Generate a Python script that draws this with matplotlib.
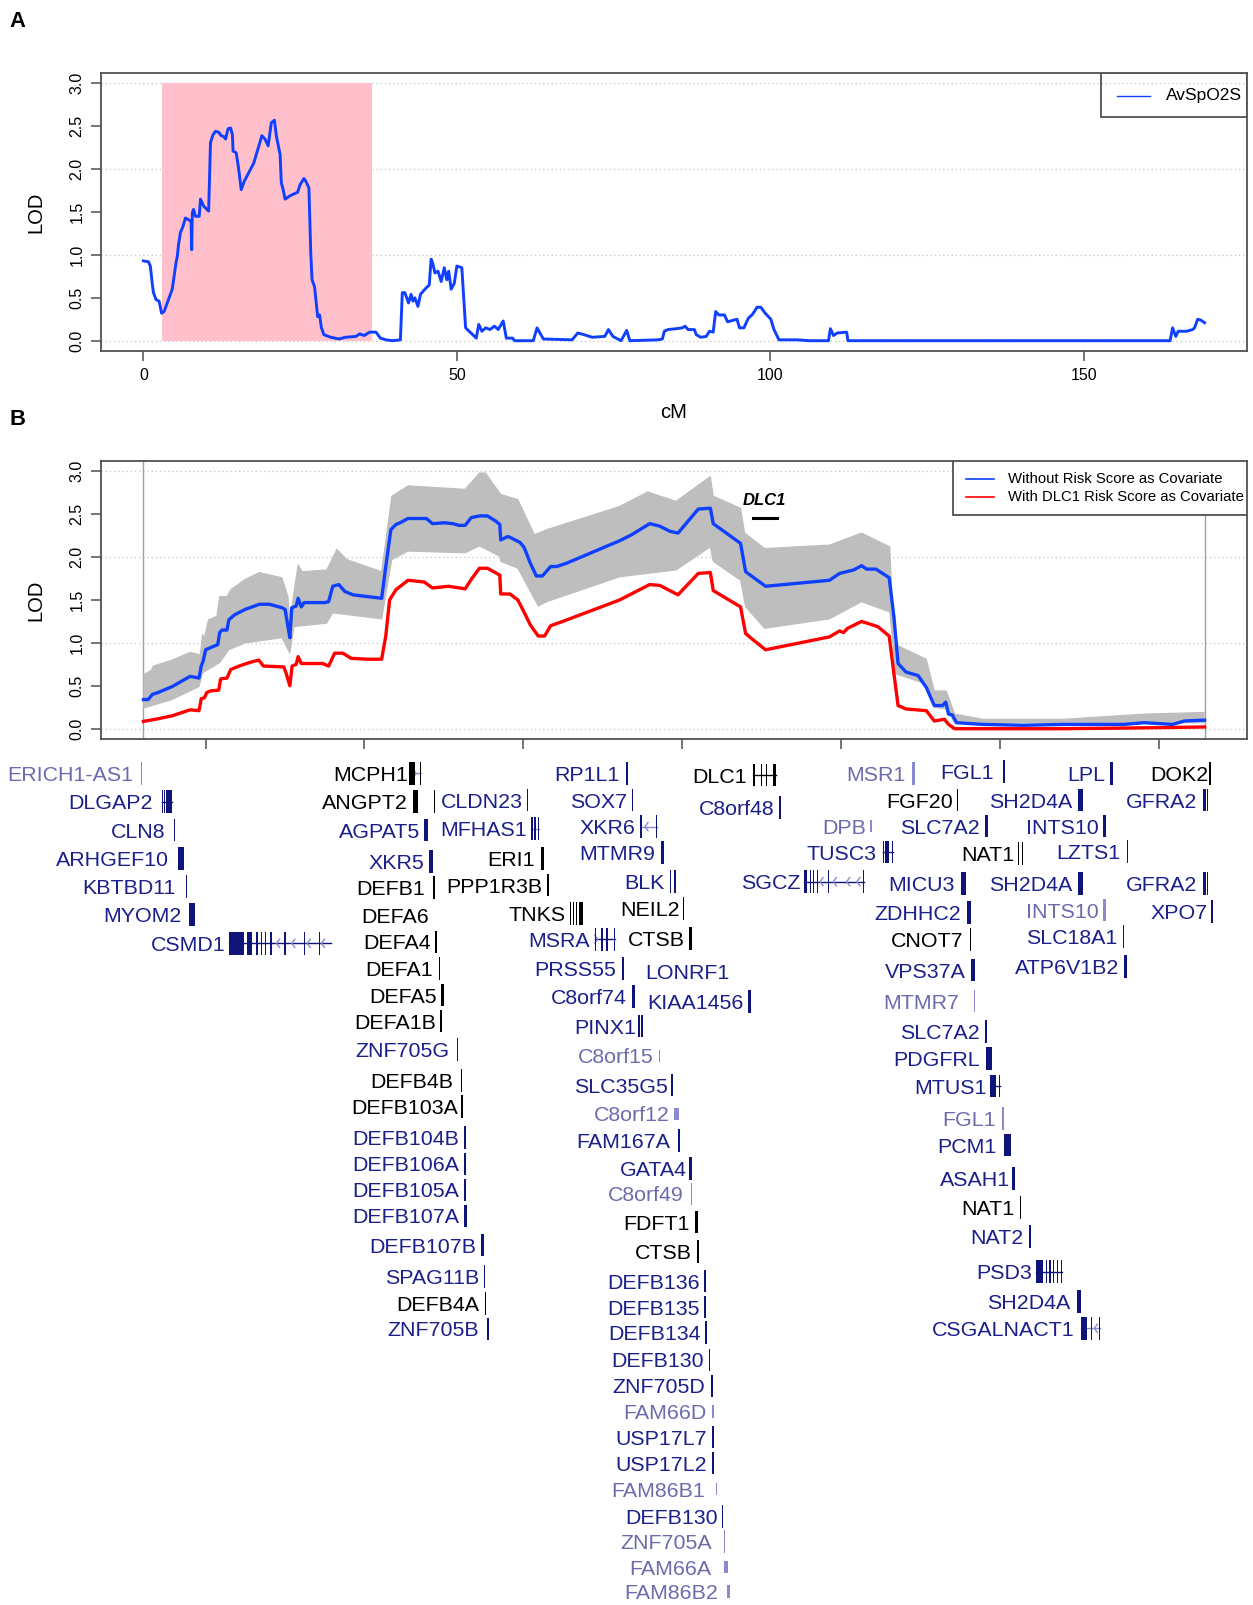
import matplotlib.pyplot as plt
from matplotlib.patches import Rectangle

plt.rcParams['font.family'] = ['Liberation Sans', 'DejaVu Sans']

BLUE = '#1040FF'
RED = '#FF0000'
GRAY = '#BEBEBE'
FRAME = '#505050'
NAVY_TXT, NAVY_BAR = '#1A1F8A', '#0F1478'
LIGHT_TXT, LIGHT_BAR = '#6B6BAD', '#8A8AD0'
TXT = {'n': NAVY_TXT, 'k': 'black', 'l': LIGHT_TXT}
BAR = {'n': NAVY_BAR, 'k': 'black', 'l': LIGHT_BAR}

# ---------------- panel A: genome scan, chromosome 8 ----------------
a_cm = [0, 0.8, 1.1, 1.4, 1.6, 2.0, 2.5, 2.9, 3.3, 4.6,
        5.2, 5.4, 5.6, 5.9, 6.3, 6.7, 7.2, 7.6, 7.7, 7.8,
        8.0, 8.3, 8.9, 9.1, 9.6, 10.4, 10.7, 11.1, 11.5, 12.0,
        12.4, 12.8, 13.1, 13.5, 13.9, 14.2, 14.3, 14.8, 15.2, 15.6,
        16.1, 16.6, 17.6, 18.9, 19.4, 19.9, 20.4, 20.9, 21.2, 21.8,
        22.0, 22.3, 22.6, 23.4, 24.6, 25.0, 25.6, 25.9, 26.4, 26.7,
        26.9, 27.3, 27.8, 28.1, 28.4, 28.8, 29.9, 31.2, 32.2, 33.9,
        34.5, 35.2, 36.1, 37.1, 37.8, 38.7, 39.7, 41.0, 41.3, 41.7,
        42.3, 42.7, 43.0, 43.3, 43.8, 44.2, 44.9, 45.6, 45.9, 46.2,
        46.5, 47.0, 47.5, 48.0, 48.4, 48.7, 49.1, 49.6, 50.0, 50.8,
        51.4, 53.1, 53.5, 54.0, 54.6, 55.3, 56.0, 56.6, 57.4, 57.9,
        58.9, 59.2, 62.2, 62.8, 63.8, 68.4, 69.3, 70.3, 71.6, 73.6,
        74.2, 74.9, 76.2, 77.1, 77.6, 82.1, 82.8, 83.1, 83.7, 85.0,
        86.0, 86.4, 86.9, 87.9, 88.2, 88.9, 89.8, 90.3, 90.9, 91.3,
        91.8, 92.7, 93.2, 94.7, 95.1, 95.8, 96.5, 97.2, 97.9, 98.5,
        99.2, 100.1, 100.6, 101.4, 104.3, 106.2, 109.3, 109.6, 110.1, 110.7,
        112.2, 112.4, 163.8, 164.2, 164.7, 165.1, 166.4, 167.4, 167.7, 168.2,
        168.7, 169.3]
a_lod = [0.93, 0.92, 0.87, 0.67, 0.56, 0.48, 0.46, 0.32, 0.34, 0.60,
         0.91, 0.98, 1.12, 1.26, 1.33, 1.43, 1.41, 1.39, 1.06, 1.49,
         1.53, 1.45, 1.45, 1.65, 1.57, 1.51, 2.31, 2.40, 2.44, 2.43,
         2.39, 2.38, 2.35, 2.47, 2.48, 2.40, 2.21, 2.19, 2.00, 1.76,
         1.86, 1.93, 2.07, 2.39, 2.35, 2.27, 2.54, 2.57, 2.39, 2.17,
         1.84, 1.76, 1.65, 1.69, 1.73, 1.82, 1.89, 1.86, 1.78, 1.02,
         0.71, 0.63, 0.28, 0.30, 0.15, 0.07, 0.04, 0.02, 0.04, 0.05,
         0.08, 0.06, 0.10, 0.10, 0.03, 0.01, 0.0, 0.01, 0.56, 0.56,
         0.44, 0.54, 0.46, 0.50, 0.40, 0.54, 0.60, 0.65, 0.95, 0.89,
         0.79, 0.81, 0.69, 0.85, 0.71, 0.81, 0.60, 0.67, 0.87, 0.85,
         0.15, 0.03, 0.19, 0.11, 0.15, 0.13, 0.17, 0.13, 0.23, 0.03,
         0.03, 0.0, 0.0, 0.15, 0.02, 0.01, 0.09, 0.07, 0.04, 0.05,
         0.13, 0.05, 0.0, 0.12, 0.0, 0.01, 0.02, 0.11, 0.13, 0.14,
         0.15, 0.17, 0.13, 0.13, 0.07, 0.04, 0.05, 0.11, 0.10, 0.34,
         0.30, 0.30, 0.22, 0.25, 0.15, 0.15, 0.26, 0.31, 0.39, 0.39,
         0.32, 0.25, 0.13, 0.01, 0.01, 0.0, 0.0, 0.14, 0.06, 0.09,
         0.10, 0.0, 0.0, 0.15, 0.05, 0.11, 0.11, 0.13, 0.15, 0.25,
         0.24, 0.21]
region = [3.04, 36.45]   # highlighted interval, zoomed in panel B

# ---------------- panel B: zoomed interval ----------------
b_cm_blue = [3.04, 3.19, 3.32, 3.49, 3.94, 4.51, 4.79, 4.86, 4.92, 5.0,
             5.12, 5.38, 5.44, 5.51, 5.67, 5.73, 5.92, 6.24, 6.69, 7.01,
             7.40, 7.50, 7.59, 7.65, 7.71, 7.85, 7.91, 8.01, 8.10, 8.42,
             8.74, 8.87, 9.0, 9.19, 9.38, 9.64, 10.09, 10.54, 10.67, 10.83,
             10.99, 11.12, 11.37, 11.95, 12.14, 12.53, 12.78, 12.97, 13.17, 13.36,
             13.62, 13.87, 14.13, 14.26, 14.29, 14.51, 14.64, 14.9, 15.03, 15.22,
             15.41, 15.6, 15.86, 16.05, 16.37, 18.03, 18.41, 18.98, 19.30, 19.62,
             19.87, 20.51, 20.89, 20.98, 21.84, 22.0, 22.22, 22.63, 24.64, 24.96,
             25.40, 25.65, 25.81, 26.10, 26.52, 26.67, 26.80, 27.05, 27.43, 27.69,
             27.94, 28.20, 28.30, 28.39, 28.51, 28.64, 29.47, 30.74, 32.0, 33.9,
             34.55, 35.44, 35.82, 36.45]
b_lod_blue = [0.34, 0.34, 0.40, 0.42, 0.49, 0.61, 0.59, 0.73, 0.79, 0.92,
              0.94, 0.98, 1.12, 1.15, 1.15, 1.27, 1.33, 1.39, 1.45, 1.45,
              1.41, 1.39, 1.19, 1.06, 1.41, 1.43, 1.52, 1.42, 1.47, 1.47,
              1.47, 1.48, 1.66, 1.68, 1.60, 1.56, 1.54, 1.52, 1.89, 2.32,
              2.38, 2.40, 2.45, 2.45, 2.39, 2.40, 2.39, 2.37, 2.37, 2.46,
              2.48, 2.48, 2.42, 2.38, 2.20, 2.24, 2.22, 2.17, 2.11, 1.93,
              1.78, 1.78, 1.89, 1.89, 1.93, 2.19, 2.26, 2.39, 2.36, 2.30,
              2.28, 2.56, 2.57, 2.39, 2.16, 1.83, 1.77, 1.66, 1.73, 1.81,
              1.85, 1.90, 1.86, 1.86, 1.76, 1.30, 0.76, 0.66, 0.62, 0.48,
              0.27, 0.27, 0.31, 0.17, 0.16, 0.07, 0.05, 0.04, 0.05, 0.05,
              0.07, 0.05, 0.09, 0.10]
b_cm_red = [3.04, 3.42, 3.94, 4.51, 4.79, 4.86, 4.96, 5.03, 5.15, 5.41,
            5.47, 5.67, 5.79, 6.05, 6.37, 6.67, 6.82, 7.46, 7.53, 7.65,
            7.72, 7.85, 7.91, 8.01, 8.68, 8.87, 9.06, 9.32, 9.58, 10.09,
            10.54, 10.67, 10.79, 10.99, 11.37, 11.88, 12.14, 12.65, 13.17, 13.36,
            13.62, 13.87, 14.26, 14.29, 14.58, 14.83, 15.09, 15.22, 15.47, 15.67,
            15.86, 16.24, 18.03, 18.98, 19.30, 19.87, 20.51, 20.89, 20.98, 21.84,
            22.0, 22.22, 22.63, 24.64, 24.96, 25.08, 25.21, 25.65, 26.16, 26.52,
            26.67, 26.80, 27.05, 27.69, 27.94, 28.26, 28.39, 28.58, 29.47, 32.0,
            34.55, 36.45]
b_lod_red = [0.085, 0.11, 0.15, 0.22, 0.21, 0.35, 0.36, 0.42, 0.44, 0.45,
             0.58, 0.59, 0.69, 0.73, 0.77, 0.80, 0.73, 0.72, 0.65, 0.50,
             0.73, 0.75, 0.84, 0.76, 0.76, 0.73, 0.88, 0.88, 0.82, 0.81,
             0.81, 1.08, 1.50, 1.62, 1.73, 1.71, 1.64, 1.66, 1.63, 1.74,
             1.87, 1.87, 1.79, 1.57, 1.57, 1.50, 1.31, 1.21, 1.08, 1.08,
             1.20, 1.25, 1.50, 1.68, 1.67, 1.56, 1.81, 1.82, 1.61, 1.42,
             1.11, 1.04, 0.92, 1.07, 1.14, 1.12, 1.17, 1.25, 1.19, 1.08,
             0.64, 0.27, 0.23, 0.21, 0.09, 0.11, 0.05, 0.0, 0.0, 0.0,
             0.01, 0.02]
# envelope of the grey resampled curves
b_cm_up = [3.04, 3.29, 3.35, 3.94, 4.51, 4.83, 4.90, 4.96, 5.09, 5.35,
           5.44, 5.67, 5.79, 6.24, 6.69, 7.40, 7.59, 7.65, 7.91, 8.04,
           8.81, 9.13, 9.45, 10.54, 10.86, 11.37, 13.17, 13.62, 13.81, 14.29,
           14.83, 15.35, 15.74, 18.03, 18.92, 19.81, 20.89, 20.98, 21.84, 21.97,
           22.6, 24.64, 25.65, 26.54, 26.67, 27.69, 27.94, 28.32, 28.58, 29.47,
           32.0, 34.55, 36.45]
b_lod_up = [0.63, 0.68, 0.73, 0.80, 0.89, 0.86, 1.10, 1.06, 1.27, 1.31,
            1.54, 1.54, 1.62, 1.74, 1.82, 1.76, 1.54, 1.27, 1.91, 1.83,
            1.85, 2.09, 1.97, 1.83, 2.71, 2.83, 2.79, 2.98, 2.98, 2.73,
            2.67, 2.26, 2.32, 2.59, 2.76, 2.65, 2.94, 2.71, 2.57, 2.28,
            2.10, 2.14, 2.28, 2.12, 0.99, 0.81, 0.44, 0.44, 0.17, 0.11,
            0.11, 0.17, 0.19]
b_cm_lo = [3.04, 3.94, 4.79, 4.90, 5.44, 5.73, 6.24, 7.40, 7.65, 7.78,
           8.81, 9.0, 10.54, 10.86, 11.37, 13.17, 13.62, 14.26, 14.29, 14.83,
           15.47, 15.74, 18.03, 19.81, 20.89, 20.98, 21.84, 22.0, 22.6, 24.64,
           25.65, 26.54, 26.73, 27.69, 27.94, 28.32, 28.58, 36.45]
b_lod_lo = [0.24, 0.34, 0.49, 0.65, 0.77, 0.92, 1.00, 1.06, 0.88, 1.19,
            1.23, 1.35, 1.28, 1.97, 2.07, 2.05, 2.13, 2.01, 1.95, 1.87,
            1.43, 1.48, 1.77, 1.85, 2.12, 1.95, 1.73, 1.42, 1.17, 1.28,
            1.48, 1.36, 0.64, 0.52, 0.25, 0.23, 0.07, 0.07]
dlc1_span = [22.22, 22.98]

# ---------------- gene track (x, y in track units) ----------------
# (name, label right edge, row centre, colour class, exon bars)
genes_left = [
    ("ERICH1-AS1", 130, 755.5, 'l', [(137.8, 139.0)]),
    ("DLGAP2", 149, 783, 'n', [(157.8, 159.2), (160.5, 161.5), (162.5, 168.3)]),
    ("CLN8", 161.5, 811, 'n', [(170.2, 171.4)]),
    ("ARHGEF10", 165.5, 838.5, 'n', [(174.0, 180.0)]),
    ("KBTBD11", 172, 866, 'n', [(181.6, 182.8)]),
    ("MYOM2", 177.5, 893.5, 'n', [(184.8, 190.0)]),
    ("CSMD1", 220, 921.5, 'n', [(224.1, 238.5), (241.7, 246.4), (249.7, 252.2), (254.5, 256.0),
                               (258.6, 260.1), (263.4, 265.6), (277.7, 279.0), (297.0, 298.0),
                               (311.4, 312.4)]),
]
genes_defb = [
    ("MCPH1", 398.7, 755.5, 'k', [(400.0, 405.0), (410.2, 411.4)]),
    ("ANGPT2", 398.7, 783, 'k', [(403.8, 408.0), (424.0, 425.2)]),
    ("AGPAT5", 410.7, 810.8, 'n', [(414.5, 418.0)]),
    ("XKR5", 414.7, 841.8, 'n', [(419.3, 422.8)]),
    ("DEFB1", 414.7, 867, 'k', [(423.3, 424.5)]),
    ("DEFA6", 419.5, 893.8, 'k', []),
    ("DEFA4", 420.7, 920, 'k', [(425.3, 426.5)]),
    ("DEFA1", 422.6, 946, 'k', [(428.8, 430.0)]),
    ("DEFA5", 426.6, 972, 'k', [(431.2, 433.8)]),
    ("DEFA1B", 426.5, 997.5, 'k', [(429.8, 431.4)]),
    ("ZNF705G", 439, 1025.5, 'n', [(446.6, 447.8)]),
    ("DEFB4B", 442.3, 1055.6, 'k', [(450.5, 451.7)]),
    ("DEFB103A", 447.2, 1081, 'k', [(450.6, 452.1)]),
    ("DEFB104B", 448.8, 1111.3, 'n', [(453.6, 455.1)]),
    ("DEFB106A", 448.8, 1137, 'n', [(453.6, 455.1)]),
    ("DEFB105A", 448.8, 1162.4, 'n', [(453.6, 455.1)]),
    ("DEFB107A", 448.8, 1187.8, 'n', [(453.6, 456.4)]),
    ("DEFB107B", 465.2, 1216.2, 'n', [(470.0, 472.8)]),
    ("SPAG11B", 468.5, 1247, 'n', [(472.8, 474.0)]),
    ("DEFB4A", 468.5, 1273.2, 'k', [(473.6, 474.8)]),
    ("ZNF705B", 467.9, 1298.2, 'n', [(475.5, 477.4)]),
]
genes_mid = [
    ("CLDN23", 510.4, 781.5, 'n', [(515.0, 516.2)]),
    ("MFHAS1", 514.4, 809.5, 'n', [(519.0, 520.2), (521.3, 523.3), (525.8, 527.0)]),
    ("ERI1", 522.3, 838.5, 'k', [(528.3, 531.1)]),
    ("PPP1R3B", 530.3, 864.5, 'k', [(534.3, 536.6)]),
    ("TNKS", 552.2, 892.2, 'k', [(557.2, 558.2), (559.6, 561.0), (562.6, 564.0), (565.5, 569.8)]),
    ("MSRA", 576.2, 917.6, 'n', [(581.2, 582.2), (587.0, 588.7), (592.0, 594.3), (599.5, 600.7)]),
    ("PRSS55", 602, 946, 'n', [(607.3, 610.0)]),
    ("C8orf74", 612, 973.6, 'n', [(617.2, 620.0)]),
    ("PINX1", 621, 1002.5, 'n', [(623.5, 624.7), (626.5, 627.7)]),
    ("C8orf15", 638.3, 1031.5, 'l', [(644.0, 645.2)]),
    ("SLC35G5", 652.1, 1059.9, 'n', [(655.8, 657.0)]),
    ("C8orf12", 654.7, 1088.2, 'l', [(658.7, 662.9)]),
    ("FAM167A", 654.7, 1114.2, 'n', [(662.0, 664.2)]),
    ("GATA4", 671.1, 1141.3, 'n', [(673.4, 676.1)]),
    ("C8orf49", 667.5, 1166.3, 'l', [(674.6, 675.8)]),
    ("FDFT1", 674.1, 1194, 'k', [(679.3, 681.9)]),
    ("CTSB", 675.5, 1222.7, 'k', [(680.5, 682.8)]),
    ("DEFB136", 683.5, 1251.5, 'n', [(688.0, 689.2)]),
    ("DEFB135", 683.5, 1277, 'n', [(688.0, 689.2)]),
    ("DEFB134", 684.5, 1302, 'n', [(689.0, 690.2)]),
    ("DEFB130", 687.7, 1328.5, 'n', [(692.5, 693.7)]),
    ("ZNF705D", 688.7, 1353.9, 'n', [(694.3, 696.9)]),
    ("FAM66D", 690.4, 1379, 'l', [(695.9, 697.8)]),
    ("USP17L7", 691, 1404, 'n', [(695.8, 697.0)]),
    ("USP17L2", 691, 1429.4, 'n', [(695.8, 697.0)]),
    ("FAM86B1", 688.7, 1454.8, 'l', [(699.0, 700.2)]),
    ("DEFB130", 700.8, 1481.5, 'n', [(705.5, 706.7)]),
    ("ZNF705A", 695.2, 1506, 'l', [(707.0, 708.2)]),
    ("FAM66A", 695.2, 1531, 'l', [(707.6, 711.5)]),
    ("FAM86B2", 701.8, 1554.8, 'l', [(710.5, 713.1)]),
]
genes_rp1l1 = [
    ("RP1L1", 605.6, 755.4, 'n', [(611.5, 613.4)]),
    ("SOX7", 612.8, 781.5, 'n', [(617.5, 618.7)]),
    ("XKR6", 620.3, 807.5, 'n', [(625.6, 627.3), (640.8, 642.0)]),
    ("MTMR9", 639.8, 832.9, 'n', [(645.3, 648.6)]),
    ("BLK", 649.6, 861.3, 'n', [(654.6, 655.6), (658.2, 660.2)]),
    ("NEIL2", 664.2, 887.3, 'k', [(667.0, 668.2)]),
    ("CTSB", 669.1, 916.6, 'k', [(673.4, 675.6)]),
    ("LONRF1", 713.1, 949.2, 'n', []),
    ("KIAA1456", 726.1, 978.5, 'n', [(731.0, 733.3)]),
    ("DLC1", 729, 757, 'k', [(735.2, 737.5), (743.5, 744.5), (748.5, 749.5), (754.8, 758.0)]),
    ("C8orf48", 757, 788.6, 'n', [(761.4, 762.6)]),
    ("SGCZ", 781.5, 861.3, 'n', [(785.4, 788.6), (791.0, 792.0), (794.0, 795.0), (798.0, 799.0),
                                (808.8, 809.8), (842.8, 843.8)]),
]
genes_right = [
    ("MSR1", 884.5, 755.5, 'l', [(891.0, 894.1)]),
    ("FGF20", 930.7, 781.5, 'k', [(935.0, 936.2)]),
    ("DPB", 846, 806.9, 'l', [(850.3, 851.5)]),
    ("SLC7A2", 957.4, 806.9, 'n', [(962.5, 965.3)]),
    ("TUSC3", 856, 832.5, 'n', [(862.7, 863.9), (864.7, 868.0), (871.4, 872.6)]),
    ("NAT1", 991.1, 833.6, 'k', [(994.6, 995.6), (998.5, 999.7)]),
    ("MICU3", 932.3, 862.9, 'n', [(938.7, 943.4)]),
    ("ZDHHC2", 938.7, 891.6, 'n', [(944.2, 948.2)]),
    ("CNOT7", 941.4, 917.6, 'k', [(947.4, 949.0)]),
    ("VPS37A", 943.4, 947.6, 'n', [(948.2, 952.2)]),
    ("MTMR7", 937.5, 977.9, 'l', [(951.7, 952.9)]),
    ("SLC7A2", 957, 1007.8, 'n', [(962.0, 964.6)]),
    ("PDGFRL", 957.3, 1033.9, 'n', [(963.2, 968.7)]),
    ("MTUS1", 963.8, 1060.9, 'n', [(967.0, 972.6), (975.4, 976.4)]),
    ("FGL1", 972.6, 1092.5, 'l', [(978.5, 981.1)]),
    ("PCM1", 973.6, 1118.5, 'n', [(980.7, 987.6)]),
    ("ASAH1", 986.6, 1151.1, 'n', [(988.9, 991.5)]),
    ("NAT1", 990.5, 1179.4, 'k', [(996.5, 997.5)]),
    ("NAT2", 999.6, 1208.1, 'n', [(1005.5, 1007.1)]),
    ("PSD3", 1008.4, 1242.3, 'n', [(1012.0, 1019.2), (1021.9, 1022.9), (1025.2, 1026.2),
                                  (1028.4, 1029.4), (1032.3, 1033.3), (1036.5, 1037.5)]),
    ("SH2D4A", 1045.9, 1271.6, 'n', [(1051.7, 1055.6)]),
    ("CSGALNACT1", 1050.1, 1297.6, 'n', [(1056.0, 1061.5), (1065.9, 1066.9), (1073.4, 1074.4)]),
    ("FGL1", 970.5, 753.8, 'n', [(979.8, 981.8)]),
    ("SH2D4A", 1047.6, 781.5, 'n', [(1052.7, 1057.9)]),
    ("INTS10", 1073.8, 806.9, 'n', [(1077.8, 1080.6)]),
    ("LZTS1", 1094.5, 832, 'n', [(1101.0, 1102.2)]),
    ("SH2D4A", 1047.6, 862.9, 'n', [(1052.7, 1057.9)]),
    ("INTS10", 1073.8, 889, 'l', [(1077.8, 1080.6)]),
    ("SLC18A1", 1091.3, 915, 'n', [(1097.0, 1098.2)]),
    ("ATP6V1B2", 1093.7, 944.3, 'n', [(1098.2, 1100.8)]),
    ("LPL", 1079.4, 755.5, 'n', [(1084.5, 1087.3)]),
    ("DOK2", 1180.7, 755.5, 'k', [(1181.3, 1182.5)]),
    ("GFRA2", 1170, 781.5, 'n', [(1174.8, 1178.0), (1179.5, 1180.5)]),
    ("GFRA2", 1170, 862.9, 'n', [(1174.8, 1178.0), (1179.5, 1180.5)]),
    ("XPO7", 1179.9, 890.6, 'n', [(1183.3, 1184.5)]),
]
short_genes = {"C8orf15", "C8orf12", "FAM66D", "FAM86B1", "FAM66A", "FAM86B2", "DPB"}
# intron lines (x0, x1, y, colour class)
introns = [(224, 323, 921.5, 'n'), (400, 411, 755.5, 'l'), (519, 527, 809.5, 'l'),
           (581, 600.7, 917.6, 'n'), (626, 641.4, 807.5, 'l'), (736, 758, 757, 'k'),
           (785.4, 843.8, 861.3, 'n'), (862.7, 872.6, 832.5, 'n'), (1012, 1037.5, 1242.3, 'n'),
           (1056, 1074.4, 1297.6, 'l'), (967, 976.4, 1060.9, 'n'), (157.8, 168.3, 783, 'n')]
# strand chevrons (x, y, direction)
chevrons = [(270, 921.5, -1), (285, 921.5, -1), (300, 921.5, -1), (314, 921.5, -1),
            (406.5, 755.5, 1), (630, 807.5, -1), (584, 917.6, 1),
            (801, 861.3, -1), (814, 861.3, -1), (827, 861.3, -1), (837, 861.3, -1),
            (1069, 1297.6, -1)]

# ---------------- figure ----------------
W, H = 1253, 1605
fig = plt.figure(figsize=(W / 100, H / 100), dpi=100)


def rect(left, top, right, bottom):
    return [left / W, 1 - bottom / H, (right - left) / W, (bottom - top) / H]


def lod_axes(ax):
    for s in ax.spines.values():
        s.set_color(FRAME)
        s.set_linewidth(1.3)
    ax.tick_params(direction='out', length=7, width=1.1, color=FRAME, labelsize=11.5, pad=5)
    ax.set_ylim(-0.12, 3.12)
    ax.set_yticks([0, 0.5, 1, 1.5, 2, 2.5, 3])
    ax.set_yticklabels(['0.0', '0.5', '1.0', '1.5', '2.0', '2.5', '3.0'])
    plt.setp(ax.get_yticklabels(), rotation=90, va='center')
    for y in [0, 1, 2, 3]:
        ax.axhline(y, color='#CCCCCC', lw=1.0, ls=(0, (1, 2)), zorder=0)
    ax.text(-0.0567, 0.5, 'LOD', rotation=90, transform=ax.transAxes,
            ha='center', va='center', fontsize=14.5)


axA = fig.add_axes(rect(101, 73, 1247, 351))
lod_axes(axA)
axA.set_xlim(-6.77, 176.07)
axA.set_xticks([0, 50, 100, 150])
axA.add_patch(Rectangle((region[0], 0), region[1] - region[0], 3, color='#FFC0CB', lw=0, zorder=1))
axA.plot(a_cm, a_lod, color=BLUE, lw=2.1, zorder=3)
axA.text(0.5, -0.223, 'cM', transform=axA.transAxes, ha='center', va='center', fontsize=14.5)
axA.add_patch(Rectangle((0.8726, 0.8417), 0.1274, 0.1583, transform=axA.transAxes,
                        fill=False, ec=FRAME, lw=1.3, zorder=5))
axA.plot([0.8866, 0.9154], [0.9173, 0.9173], transform=axA.transAxes, color=BLUE, lw=1.0)
axA.text(0.9293, 0.9173, 'AvSpO2S', transform=axA.transAxes, ha='left', va='center', fontsize=12.5)

axB = fig.add_axes(rect(101, 461, 1247, 739))
lod_axes(axB)
pad = 0.04 * (region[1] - region[0])
axB.set_xlim(region[0] - pad, region[1] + pad)
axB.set_xticks([5, 10, 15, 20, 25, 30, 35])
axB.set_xticklabels([])
for xv in region:
    axB.axvline(xv, color='#A0A0A0', lw=1.0, zorder=1)
axB.fill(b_cm_up + b_cm_lo[::-1], b_lod_up + b_lod_lo[::-1], color=GRAY, lw=0, zorder=2)
axB.plot(b_cm_up, b_lod_up, color=GRAY, lw=0.8, zorder=2)
axB.plot(b_cm_lo, b_lod_lo, color=GRAY, lw=0.8, zorder=2)
axB.plot(b_cm_red, b_lod_red, color=RED, lw=2.4, zorder=3)
axB.plot(b_cm_blue, b_lod_blue, color=BLUE, lw=2.4, zorder=4)
axB.plot(dlc1_span, [2.46, 2.46], color='black', lw=2.2)
axB.text(sum(dlc1_span) / 2, 2.66, 'DLC1', ha='center', va='center',
         fontsize=12, fontweight='bold', fontstyle='italic')
axB.add_patch(Rectangle((0.7435, 0.8058), 0.2565, 0.1942, transform=axB.transAxes,
                        fc='white', ec=FRAME, lw=1.3, zorder=5))
for yy, col, lab in [(0.9353, BLUE, 'Without Risk Score as Covariate'),
                     (0.8705, RED, 'With DLC1 Risk Score as Covariate')]:
    axB.plot([0.7548, 0.7792], [yy, yy], transform=axB.transAxes, color=col, lw=1.2, zorder=6)
    axB.text(0.7914, yy, lab, transform=axB.transAxes, ha='left', va='center',
             fontsize=10.7, zorder=6)

fig.text(17.6 / W, 1 - 27.3 / H, 'A', fontweight='bold', fontsize=15.8, ha='center', va='baseline')
fig.text(17.6 / W, 1 - 425 / H, 'B', fontweight='bold', fontsize=15.8, ha='center', va='baseline')

# ---------------- gene track ----------------
axG = fig.add_axes([0, 0, 1, (H - 745) / H])
axG.set_xlim(0, 1224)
axG.set_ylim(1568, 745 / 1.0237)
axG.axis('off')

for x0, x1, y, c in introns:
    axG.plot([x0, x1], [y, y], color=BAR[c], lw=1.0, zorder=1)
for x, y, d in chevrons:
    axG.plot([x - 3 * d, x, x - 3 * d], [y - 4, y, y + 4], color=LIGHT_BAR, lw=1.0, zorder=1)

for group in [genes_left, genes_defb, genes_mid, genes_rp1l1, genes_right]:
    for name, xr, y, c, bars in group:
        axG.text(xr, y + 7.4, name, ha='right', va='baseline', fontsize=15.4, color=TXT[c])
        h = 12 if name in short_genes else 22
        for x0, x1 in bars:
            axG.add_patch(Rectangle((x0, y - h / 2), x1 - x0, h, color=BAR[c], lw=0, zorder=2))

fig.savefig('out.png', dpi=100)
